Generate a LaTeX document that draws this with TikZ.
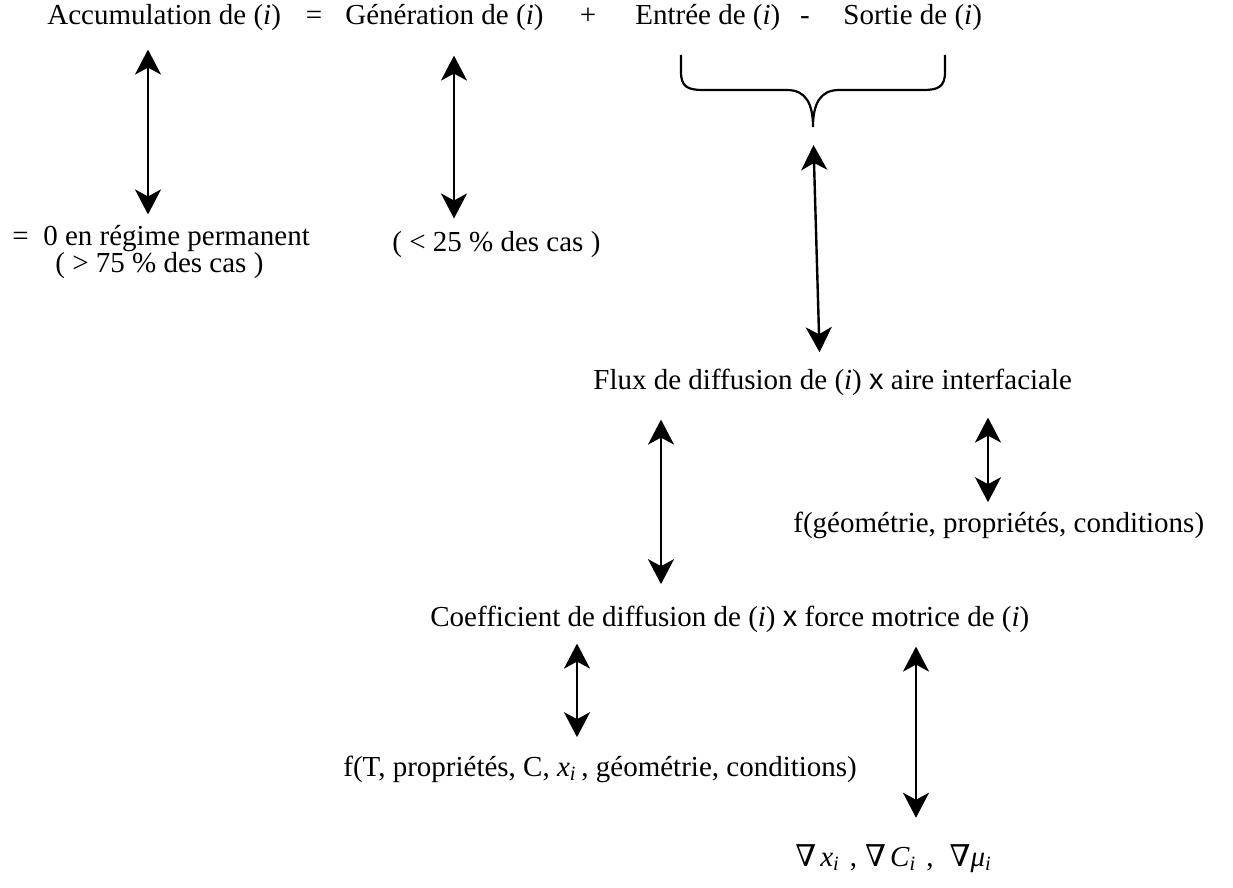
\documentclass[tikz,border=0pt]{standalone}
\usepackage{fontspec}
\setmainfont{Liberation Serif}
\newfontfamily\arial{Liberation Sans}
\newfontfamily\dejavu{DejaVu Serif}
\usetikzlibrary{arrows.meta}

\newcommand{\fois}{{\arial x}}
\newcommand{\especei}{(\textit{i})}
\newcommand{\nab}{{\dejavu\fontsize{15}{16}\selectfont ∇}}

\tikzset{
    texte/.style={inner sep=0pt, anchor=base west, font=\fontsize{14.5}{17}\selectfont},
    signe/.style={inner sep=0pt, anchor=base, font=\fontsize{14.5}{17}\selectfont},
    fleche/.style={{Stealth[length=12.5pt,width=13pt,inset=3.5pt]}-{Stealth[length=12.5pt,width=13pt,inset=3.5pt]}, line width=1.2pt},
    accolade/.style={line width=1.1pt}
}

\begin{document}
\begin{tikzpicture}[x=0.5pt,y=-0.5pt]
        \useasboundingbox (0,0) rectangle (1233,888);

        \node[texte] (accum) at (47,25) {Accumulation de \especei};
        \node[signe] (egal) at (314,25) {=};
        \node[texte] (gen) at (345,25) {Génération de \especei};
        \node[signe] (plus) at (588,25) {+};
        \node[texte] (entree) at (635,25) {Entrée de \especei};
        \node[signe] (moins) at (805,25) {-};
        \node[texte] (sortie) at (843,25) {Sortie de \especei};

        \node[texte] (regime) at (12,246) {=\ \ 0 en régime permanent};
        \node[texte] (plus75) at (55,272) {( > 75 \% des cas )};
        \node[texte] (moins25) at (392,251) {( < 25 \% des cas )};

        \node[texte] (flux) at (593,389) {Flux de diffusion de \especei{} \fois{} aire interfaciale};
        \node[texte] (fgeo) at (793,532) {f(géométrie, propriétés, conditions)};
        \node[texte] (coeff) at (430,626) {Coefficient de diffusion de \especei{} \fois{} force motrice de \especei};
        \node[texte] (fT) at (343,776) {f(T, propriétés, C, \textit{x}\textsubscript{\textit{i}}\,, géométrie, conditions)};
        \node[texte] (grad) at (795,866) {\nab\hspace{2pt}\textit{x}\textsubscript{\textit{i}}\hspace{5pt},\hspace{4pt}\nab\hspace{2pt}\textit{C}\textsubscript{\textit{i}}\hspace{5pt},\hspace{8pt}\nab\textit{μ}\textsubscript{\textit{i}}};

        \coordinate (xa) at (148,0);
        \coordinate (xb) at (454,0);
        \coordinate (xc) at (820,0);
        \coordinate (xd) at (661,0);
        \coordinate (xe) at (988,0);
        \coordinate (xf) at (577,0);
        \coordinate (xg) at (916,0);
        \coordinate (pointe) at (813,127);

        \draw[accolade] (681,55) -- (681,72) .. controls (681,87) and (688,90) .. (703,90) -- (787,90)
            .. controls (806,90) and (813,104) .. (pointe)
            .. controls (813,104) and (820,90) .. (839,90) -- (923,90)
            .. controls (938,90) and (945,87) .. (945,72) -- (945,55);

        \draw[fleche, shorten <=9pt, shorten >=5.5pt] (accum.south -| xa) -- (regime.north -| xa);
        \draw[fleche, shorten <=12pt, shorten >=6pt] (gen.south -| xb) -- (moins25.north -| xb);
        \draw[fleche, shorten <=9pt, shorten >=8pt] (pointe) -- (flux.north -| xc);
        \draw[fleche, shorten <=12pt, shorten >=10.5pt] (flux.south -| xd) -- (coeff.north -| xd);
        \draw[fleche, shorten <=11pt, shorten >=4.5pt] (flux.south -| xe) -- (fgeo.north -| xe);
        \draw[fleche, shorten <=5.5pt, shorten >=9pt] (coeff.south -| xf) -- (fT.north -| xf);
        \draw[fleche, shorten <=7pt, shorten >=13pt] (coeff.south -| xg) -- (grad.north -| xg);
    \end{tikzpicture}
\end{document}
